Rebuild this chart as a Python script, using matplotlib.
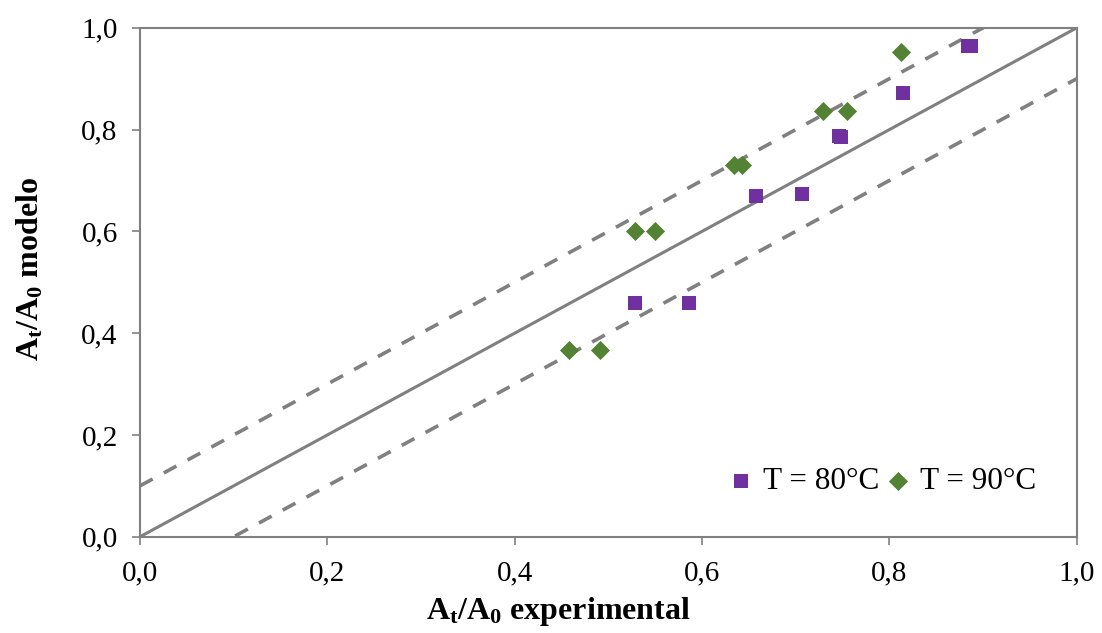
import matplotlib.pyplot as plt
import numpy as np

plt.rcParams['font.family'] = ['Liberation Serif', 'DejaVu Serif']
plt.rcParams['mathtext.fontset'] = 'custom'
plt.rcParams['mathtext.rm'] = 'Liberation Serif'
plt.rcParams['mathtext.bf'] = 'Liberation Serif:bold'

# T = 80 C (experimental, modelo)
x80 = [0.529, 0.586, 0.658, 0.707, 0.746, 0.748, 0.815, 0.884, 0.887]
y80 = [0.460, 0.460, 0.669, 0.673, 0.787, 0.786, 0.872, 0.964, 0.964]
# T = 90 C
x90 = [0.458, 0.491, 0.528, 0.550, 0.634, 0.643, 0.729, 0.755, 0.813]
y90 = [0.367, 0.367, 0.600, 0.600, 0.730, 0.730, 0.837, 0.837, 0.952]

ticks = [0.0, 0.2, 0.4, 0.6, 0.8, 1.0]
tick_labels = ['0,0', '0,2', '0,4', '0,6', '0,8', '1,0']

fig = plt.figure(figsize=(11.02, 6.33), dpi=100)
ax = fig.add_axes([0.127, 0.152, 0.850, 0.804])

line_x = np.array([0.0, 1.0])
ax.plot(line_x, line_x, color='#808080', lw=2.2, zorder=1)
ax.plot(line_x, line_x + 0.1, color='#808080', lw=2.6, ls=(0, (4, 3.5)), zorder=1)
ax.plot(line_x, line_x - 0.1, color='#808080', lw=2.6, ls=(0, (4, 3.5)), zorder=1)

ax.scatter(x80, y80, marker='s', s=110, color='#7030A0', lw=0, zorder=3,
           label='T = 80°C')
ax.scatter(x90, y90, marker='D', s=95, color='#548235', lw=0, zorder=3,
           label='T = 90°C')

ax.set_xlim(0, 1)
ax.set_ylim(0, 1)
ax.set_xticks(ticks)
ax.set_xticklabels(tick_labels)
ax.set_yticks(ticks)
ax.set_yticklabels(tick_labels)
ax.tick_params(direction='out', length=6, width=1.2, color='#808080',
               labelsize=21)
ax.tick_params(axis='x', pad=11)
ax.tick_params(axis='y', pad=10)
for s in ax.spines.values():
    s.set_color('#808080')
    s.set_linewidth(1.5)

ax.set_xlabel(r'$\mathbf{A_t/A_0}$ experimental', fontsize=23,
              fontweight='bold')
ax.set_ylabel(r'$\mathbf{A_t/A_0}$ modelo', fontsize=23,
              fontweight='bold')
ax.xaxis.set_label_coords(0.447, -0.115)
ax.yaxis.set_label_coords(-0.101, 0.526)

ax.legend(loc='lower right', bbox_to_anchor=(0.97, 0.055), ncol=2,
          frameon=False, fontsize=22.5, handlelength=0.8, handletextpad=0.3,
          columnspacing=0.2, borderaxespad=0)

fig.savefig('out.png', dpi=100)
